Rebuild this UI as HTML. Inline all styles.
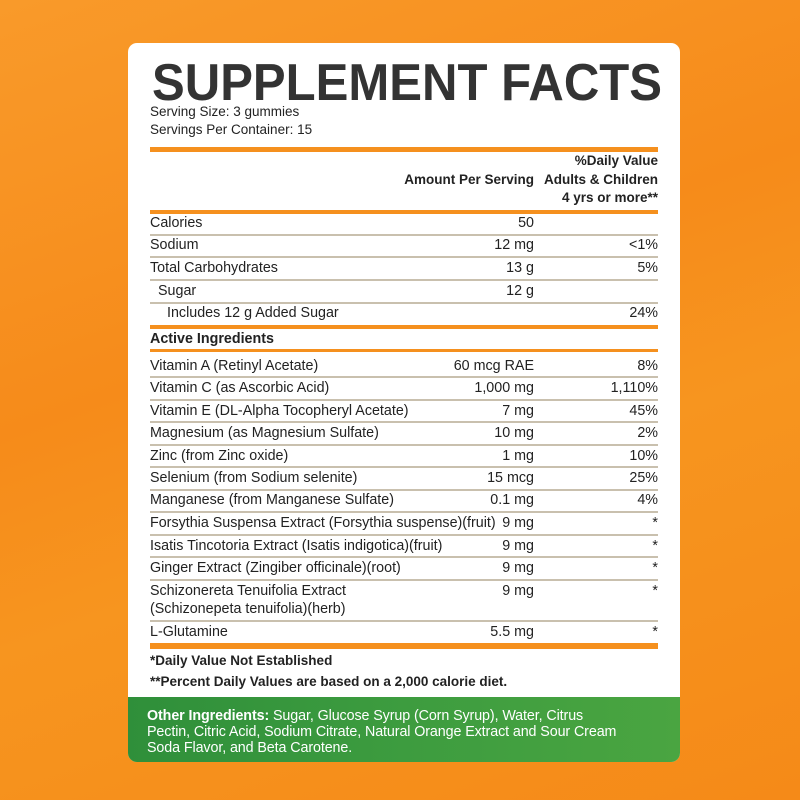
<!DOCTYPE html>
<html><head><meta charset="utf-8"><style>
body{margin:0;width:800px;height:800px;overflow:hidden;background:linear-gradient(160deg,#f99a2a 0%,#f68b1a 40%,#f7951f 60%,#f58a18 100%);font-family:"Liberation Sans",Arial,sans-serif;position:relative}
.card{position:absolute;left:128px;top:43px;width:552px;height:719px;background:#fff;border-radius:9px;overflow:hidden}
.green{position:absolute;left:0;top:654px;width:552px;height:65px;background:linear-gradient(90deg,#2f8f3a,#3d9c3f 50%,#4aa541);color:#fff;font-size:14.3px;line-height:16px;padding:11px 50px 0 19px;box-sizing:border-box;letter-spacing:-0.1px}
.r{position:absolute;left:22px;width:508px;height:18px;line-height:18px;font-size:14.3px;color:#222;letter-spacing:0;margin-top:1px}
.r .a{position:absolute;right:124px;top:0}
.r .d{position:absolute;right:0;top:0}
.ln{position:absolute;left:22px;width:508px;height:1.5px;background:#c9c0ae}
.or{position:absolute;left:22px;width:508px;background:#f5901e}
.b{font-weight:bold}
</style></head><body>
<div class="card">
<svg style="position:absolute;left:0;top:0" width="552" height="70"><text x="24" y="57" font-family="Liberation Sans" font-weight="bold" font-size="52" fill="#333" textLength="510" lengthAdjust="spacingAndGlyphs">SUPPLEMENT FACTS</text></svg>
<div class="r" style="top:59px;font-size:13.5px">Serving Size: 3 gummies</div>
<div class="r" style="top:77px;font-size:13.5px">Servings Per Container: 15</div>
<div class="or" style="top:104px;height:5px"></div>
<div class="r b" style="top:108px;font-size:13.5px"><span class="d">%Daily Value</span></div>
<div class="r b" style="top:127px;font-size:13.5px"><span class="a">Amount Per Serving</span><span class="d">Adults &amp; Children</span></div>
<div class="r b" style="top:145px;font-size:13.5px"><span class="d">4 yrs or more**</span></div>
<div class="or" style="top:167px;height:4px"></div>
<div class="r" style="top:170px">Calories<span class="a">50</span></div>
<div class="ln" style="top:191px"></div>
<div class="r" style="top:192px">Sodium<span class="a">12 mg</span><span class="d">&lt;1%</span></div>
<div class="ln" style="top:213px"></div>
<div class="r" style="top:215px">Total Carbohydrates<span class="a">13 g</span><span class="d">5%</span></div>
<div class="ln" style="top:236px"></div>
<div class="r" style="top:238px;padding-left:8px;width:500px">Sugar<span class="a">12 g</span></div>
<div class="ln" style="top:259px"></div>
<div class="r" style="top:260px;padding-left:17px;width:491px">Includes 12 g Added Sugar<span class="d">24%</span></div>
<div class="or" style="top:282px;height:4px"></div>
<div class="r b" style="top:286px">Active Ingredients</div>
<div class="or" style="top:306px;height:3px"></div>
<div class="r" style="top:313px">Vitamin A (Retinyl Acetate)<span class="a">60 mcg RAE</span><span class="d">8%</span></div>
<div class="ln" style="top:333px"></div>
<div class="r" style="top:335px">Vitamin C (as Ascorbic Acid)<span class="a">1,000 mg</span><span class="d">1,110%</span></div>
<div class="ln" style="top:356px"></div>
<div class="r" style="top:358px">Vitamin E (DL-Alpha Tocopheryl Acetate)<span class="a">7 mg</span><span class="d">45%</span></div>
<div class="ln" style="top:378px"></div>
<div class="r" style="top:380px">Magnesium (as Magnesium Sulfate)<span class="a">10 mg</span><span class="d">2%</span></div>
<div class="ln" style="top:401px"></div>
<div class="r" style="top:403px">Zinc (from Zinc oxide)<span class="a">1 mg</span><span class="d">10%</span></div>
<div class="ln" style="top:423px"></div>
<div class="r" style="top:425px">Selenium (from Sodium selenite)<span class="a">15 mcg</span><span class="d">25%</span></div>
<div class="ln" style="top:446px"></div>
<div class="r" style="top:447px">Manganese (from Manganese Sulfate)<span class="a">0.1 mg</span><span class="d">4%</span></div>
<div class="ln" style="top:468px"></div>
<div class="r" style="top:470px">Forsythia Suspensa Extract (Forsythia suspense)(fruit)<span class="a">9 mg</span><span class="d">*</span></div>
<div class="ln" style="top:491px"></div>
<div class="r" style="top:493px">Isatis Tincotoria Extract (Isatis indigotica)(fruit)<span class="a">9 mg</span><span class="d">*</span></div>
<div class="ln" style="top:513px"></div>
<div class="r" style="top:515px">Ginger Extract (Zingiber officinale)(root)<span class="a">9 mg</span><span class="d">*</span></div>
<div class="ln" style="top:536px"></div>
<div class="r" style="top:538px">Schizonereta Tenuifolia Extract<span class="a">9 mg</span><span class="d">*</span></div>
<div class="r" style="top:556px">(Schizonepeta tenuifolia)(herb)</div>
<div class="ln" style="top:577px"></div>
<div class="r" style="top:579px">L-Glutamine<span class="a">5.5 mg</span><span class="d">*</span></div>
<div class="or" style="top:600px;height:6px"></div>
<div class="r b" style="top:608px;font-size:13.5px">*Daily Value Not Established</div>
<div class="r b" style="top:629px;font-size:13.5px">**Percent Daily Values are based on a 2,000 calorie diet.</div>
<div class="green"><b>Other Ingredients:</b> Sugar, Glucose Syrup (Corn Syrup), Water, Citrus<br>Pectin, Citric Acid, Sodium Citrate, Natural Orange Extract and Sour Cream<br>Soda Flavor, and Beta Carotene.</div>
</div>
</body></html>
